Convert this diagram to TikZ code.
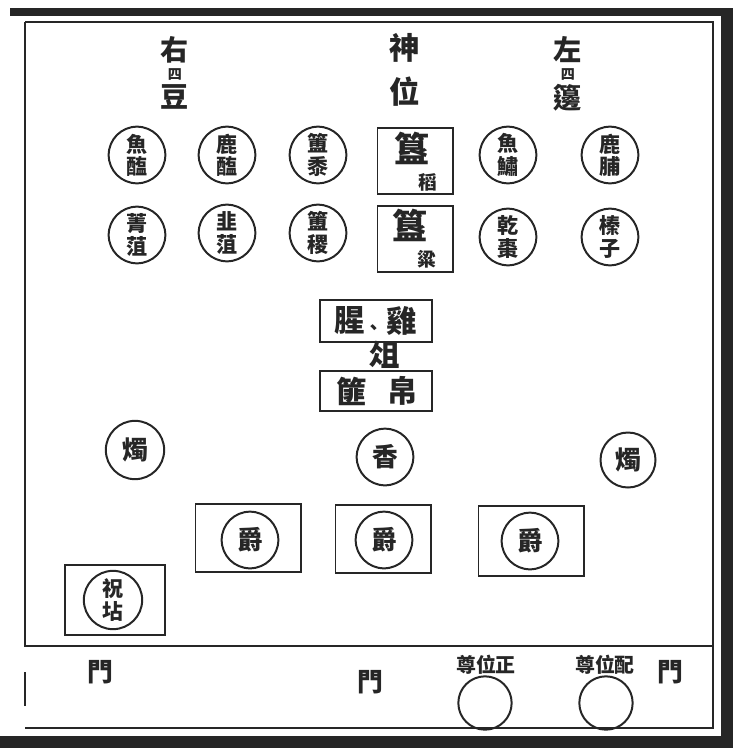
\documentclass[tikz,border=0pt]{standalone}
\usepackage{fontspec}
\newfontfamily\cjk{Noto Sans CJK TC}
\usetikzlibrary{positioning}
\tikzset{
  ink/.style={black!85},
  dish/.style={draw=black!85, circle, line width=1.7pt, minimum size=1.7cm, inner sep=0pt, align=center,
    text=black!85, font=\cjk\bfseries\fontsize{18}{19}\selectfont},
  tray/.style={draw=black!85, rectangle, line width=1.7pt, inner sep=0pt},
  bigchar/.style={text=black!85, inner sep=0pt, font=\cjk\bfseries\fontsize{26}{26}\selectfont},
  midchar/.style={text=black!85, inner sep=0pt, font=\cjk\bfseries\fontsize{22}{22}\selectfont},
  smallchar/.style={text=black!85, inner sep=0pt, font=\cjk\bfseries\fontsize{16}{16}\selectfont},
  tinychar/.style={text=black!85, inner sep=0pt, font=\cjk\bfseries\fontsize{12}{12}\selectfont},
  rule/.style={draw=black!85, line width=1.3pt}
}
\begin{document}
\begin{tikzpicture}[x=0.03cm, y=-0.03cm]
    \useasboundingbox (0,0) rectangle (733,748);
    % border of the page
    \fill[ink] (10,8) rectangle (733,16);
    \fill[ink] (721,16) rectangle (733,748);
    \fill[ink] (0,736) rectangle (733,748);
    \coordinate (tl) at (25,22);
    \coordinate (tr) at (713,22);
    \coordinate (ml) at (25,646);
    \coordinate (mr) at (713,646);
    \coordinate (bl) at (25,728);
    \coordinate (br) at (713,728);
    \draw[rule] (tl) -- (tr) -- (br) -- (bl);
    \draw[rule] (tl) -- (ml) -- (mr);
    \draw[rule] (25,672) -- (25,706);

    % headings
    \node[bigchar, font=\cjk\bfseries\fontsize{24}{24}\selectfont] (you) at (175,50) {右};
    \node[tinychar] (yousi) at (175,74) {四};
    \node[bigchar, font=\cjk\bfseries\fontsize{24}{24}\selectfont] (dou) at (175,97) {豆};
    \node[bigchar] (shen) at (405,48) {神};
    \node[bigchar] (wei) at (405,92) {位};
    \node[bigchar, font=\cjk\bfseries\fontsize{24}{24}\selectfont] (zuo) at (568,50) {左};
    \node[tinychar] (zuosi) at (568,74) {四};
    \node[bigchar, font=\cjk\bfseries\fontsize{24}{24}\selectfont] (bian) at (568,98) {籩};

    % first row
    \node[dish] (yuhai) at (137,155) {魚\\醢};
    \node[dish] (luhai) at (227,155) {鹿\\醢};
    \node[dish] (fushu) at (318,155) {簠\\黍};
    \node[tray, minimum width=2.25cm, minimum height=2cm] (guidao) at (415,161) {};
    \node[bigchar, font=\cjk\bfseries\fontsize{30}{30}\selectfont] (gui1) at (412,148) {簋};
    \node[smallchar] (dao) at (428,182) {稻};
    \node[dish] (yusu) at (508,155) {魚\\鱐};
    \node[dish] (lufu) at (610,155) {鹿\\脯};

    % second row
    \node[dish] (jingzu) at (137,235) {菁\\菹};
    \node[dish] (jiuzu) at (227,233) {韭\\菹};
    \node[dish] (fuji) at (318,233) {簠\\稷};
    \node[tray, minimum width=2.25cm, minimum height=2cm] (guiliang) at (415,239) {};
    \node[bigchar, font=\cjk\bfseries\fontsize{30}{30}\selectfont] (gui2) at (410,225) {簋};
    \node[smallchar] (liang) at (427,259) {粱};
    \node[dish] (ganzao) at (508,237) {乾\\棗};
    \node[dish] (zhenzi) at (610,237) {榛\\子};

    % offerings on the stand
    \node[tray, minimum width=3.35cm, minimum height=1.25cm] (xingji) at (376,321) {};
    \node[bigchar] (xing) at (350,321) {腥};
    \node[smallchar] (dun) at (374,330) {、};
    \node[bigchar] (ji) at (402,321) {雞};
    \node[bigchar] (zu) at (385,355) {俎};
    \node[tray, minimum width=3.35cm, minimum height=1.2cm] (feibo) at (376,391) {};
    \node[bigchar] (fei) at (352,391) {篚};
    \node[bigchar] (bo) at (403,391) {帛};

    % candles and incense
    \node[dish, font=\cjk\bfseries\fontsize{22}{22}\selectfont, minimum size=1.75cm] (zhu1) at (135,450) {燭};
    \node[dish, font=\cjk\bfseries\fontsize{22}{22}\selectfont, minimum size=1.7cm] (xiang) at (385,457) {香};
    \node[dish, font=\cjk\bfseries\fontsize{22}{22}\selectfont, minimum size=1.65cm] (zhu2) at (628,460) {燭};

    % cups
    \node[tray, minimum width=3.15cm, minimum height=2.05cm] (jue1box) at (248,538) {};
    \node[dish, font=\cjk\bfseries\fontsize{22}{22}\selectfont, minimum size=1.7cm] (jue1) at (250,540) {爵};
    \node[tray, minimum width=2.85cm, minimum height=2.05cm] (jue2box) at (383,539) {};
    \node[dish, font=\cjk\bfseries\fontsize{22}{22}\selectfont, minimum size=1.7cm] (jue2) at (384,540) {爵};
    \node[tray, minimum width=3.15cm, minimum height=2.1cm] (jue3box) at (531,541) {};
    \node[dish, font=\cjk\bfseries\fontsize{22}{22}\selectfont, minimum size=1.7cm] (jue3) at (530,541) {爵};

    % prayer stand
    \node[tray, minimum width=3cm, minimum height=2.1cm] (zhubox) at (115,600) {};
    \node[dish, minimum size=1.75cm] (zhudian) at (113,600) {祝\\坫};

    % gates and the two seats
    \node[midchar] (men1) at (100,672) {門};
    \node[midchar] (men2) at (370,682) {門};
    \node[smallchar, font=\cjk\bfseries\fontsize{17}{17}\selectfont] (zheng) at (486,665) {尊位正};
    \node[dish, minimum size=1.6cm] (zuo1) at (485,703) {};
    \node[smallchar, font=\cjk\bfseries\fontsize{17}{17}\selectfont] (pei) at (605,665) {尊位配};
    \node[dish, minimum size=1.6cm] (zuo2) at (606,703) {};
    \node[midchar] (men3) at (670,672) {門};
\end{tikzpicture}
\end{document}
